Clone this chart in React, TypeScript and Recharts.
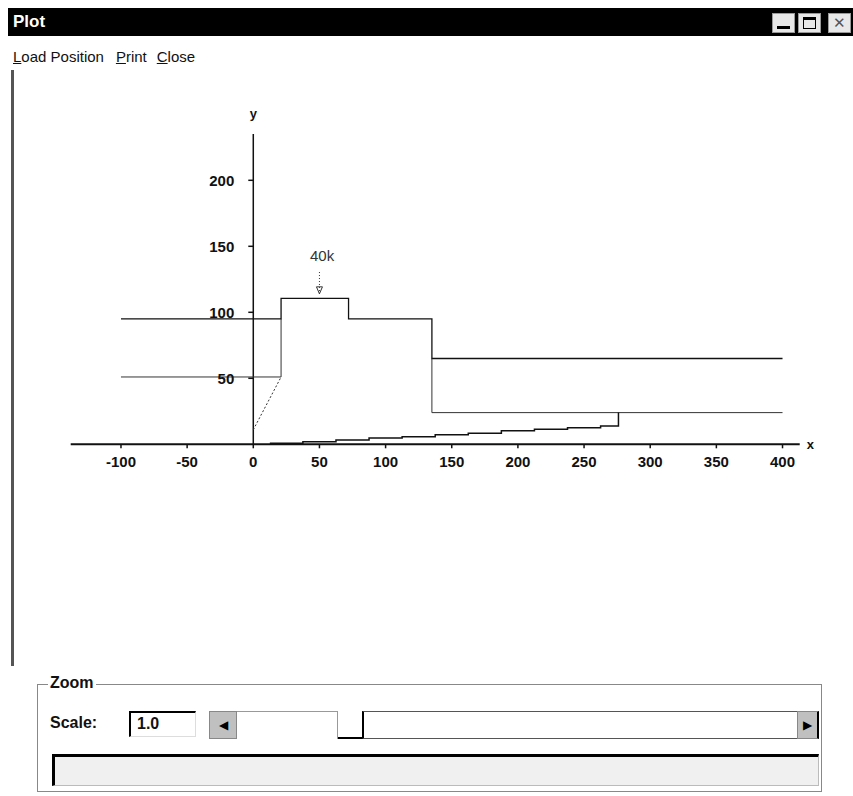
import React from "react";
import {
  LineChart,
  Line,
  XAxis,
  YAxis,
  ReferenceLine,
  ReferenceDot,
} from "recharts";

// axis ticks
const X_TICKS = [-100, -50, 0, 50, 100, 150, 200, 250, 300, 350, 400];
const Y_TICKS = [50, 100, 150, 200];

// upper profile (steps)
const UPPER_X = [-100, 21, 72, 135, 400];
const UPPER_Y = [95, 110.5, 95, 65, 65];

// lower left line going up into the step
const LEFT_LOW_X = [-100, 21, 21];
const LEFT_LOW_Y = [51, 51, 95];

// lower right line
const RIGHT_LOW_X = [135, 135, 400];
const RIGHT_LOW_Y = [65, 24, 24];

// dotted ramp from origin
const RAMP_X = [0, 21];
const RAMP_Y = [11, 51];

// staircase along the x axis
const STAIR_X = [12.5, 37.5, 62.5, 87.5, 112.5, 137.5, 162.5, 187.5, 212.5, 237.5, 262.5, 276];
const STAIR_Y = [0.8, 2, 3.3, 4.8, 5.8, 7.3, 8.3, 10.3, 11.4, 12.6, 13.9, 24];

// point load
const LOAD_X = 50;
const LOAD_LABEL = "40k";
const LOAD_TOP = 130.5;
const LOAD_TIP = 114;

const toPoints = (xs: number[], ys: number[]) => xs.map((x, i) => ({ x, y: ys[i] }));

const FONT = '"Liberation Sans", Arial, sans-serif';
const INK = "#111";

const YTick = (label: string) => (props: any) => {
  const { cx, cy } = props;
  return (
    <g>
      <line x1={cx - 5} x2={cx} y1={cy} y2={cy} stroke={INK} strokeWidth={1.5} />
      <text x={cx - 19} y={cy} dy="0.36em" textAnchor="end" fontFamily={FONT} fontSize={15} fontWeight="bold" fill={INK}>
        {label}
      </text>
    </g>
  );
};

const AxisName = (label: string) => (props: any) => {
  const { cx, cy } = props;
  return (
    <text x={cx} y={cy} dy="0.36em" textAnchor="middle" fontFamily={FONT} fontSize={13} fontWeight="bold" fill={INK}>
      {label}
    </text>
  );
};

const LoadText = (props: any) => {
  const { cx, cy } = props;
  return (
    <text x={cx} y={cy} dy="0.36em" textAnchor="middle" fontFamily={FONT} fontSize={15} fill="#333">
      {LOAD_LABEL}
    </text>
  );
};

const ArrowHead = (props: any) => {
  const { cx, cy } = props;
  return <path d={`M${cx - 3},${cy - 7} L${cx + 3},${cy - 7} L${cx},${cy} Z`} fill="none" stroke="#333" strokeWidth={1} />;
};

function PlotChart() {
  return (
    <LineChart width={853} height={500} margin={{ top: 107.7, right: 37.4, left: 70.7, bottom: 25.7 }}>
      <XAxis
        type="number"
        dataKey="x"
        domain={[-138, 425]}
        allowDataOverflow
        ticks={X_TICKS}
        interval={0}
        axisLine={false}
        tickLine={{ stroke: INK, strokeWidth: 1.5 }}
        tickSize={4}
        tickMargin={8}
        tick={{ fill: INK, fontFamily: FONT, fontSize: 15, fontWeight: "bold" }}
        height={30}
      />
      <YAxis type="number" dataKey="y" domain={[0, 255]} allowDataOverflow hide />

      <ReferenceLine segment={[{ x: -138, y: 0 }, { x: 413, y: 0 }]} stroke={INK} strokeWidth={2} />
      <ReferenceLine segment={[{ x: 0, y: 0 }, { x: 0, y: 235 }]} stroke={INK} strokeWidth={1.5} />
      {Y_TICKS.map((v) => (
        <ReferenceDot key={v} x={0} y={v} shape={YTick(String(v))} />
      ))}
      <ReferenceDot x={0} y={251} shape={AxisName("y")} />
      <ReferenceDot x={421} y={0} shape={AxisName("x")} />

      <Line data={toPoints(UPPER_X, UPPER_Y)} dataKey="y" type="stepAfter" stroke={INK} strokeWidth={1.3} dot={false} isAnimationActive={false} />
      <Line data={toPoints(LEFT_LOW_X, LEFT_LOW_Y)} dataKey="y" type="linear" stroke="#333" strokeWidth={1} dot={false} isAnimationActive={false} />
      <Line data={toPoints(RIGHT_LOW_X, RIGHT_LOW_Y)} dataKey="y" type="linear" stroke="#333" strokeWidth={1} dot={false} isAnimationActive={false} />
      <Line data={toPoints(RAMP_X, RAMP_Y)} dataKey="y" type="linear" stroke="#333" strokeWidth={1} strokeDasharray="2 2" dot={false} isAnimationActive={false} />
      <Line data={toPoints(STAIR_X, STAIR_Y)} dataKey="y" type="stepAfter" stroke={INK} strokeWidth={1.5} dot={false} isAnimationActive={false} />

      <ReferenceLine segment={[{ x: LOAD_X, y: LOAD_TOP }, { x: LOAD_X, y: LOAD_TIP }]} stroke="#333" strokeDasharray="1 2" />
      <ReferenceDot x={LOAD_X} y={LOAD_TIP} shape={ArrowHead} />
      <ReferenceDot x={LOAD_X + 2} y={143} shape={LoadText} />
    </LineChart>
  );
}

const gray = "#c0c0c0";

export default function App() {
  return (
    <div style={{ position: "relative", width: 853, height: 796, background: "#fff", fontFamily: FONT, overflow: "hidden" }}>
      <style>{`body{margin:0}`}</style>

      {/* title bar */}
      <div style={{ position: "absolute", left: 8, top: 8, width: 845, height: 28, background: "#000" }} />
      <div style={{ position: "absolute", left: 13, top: 12, color: "#fff", fontWeight: "bold", fontSize: 17 }}>Plot</div>
      {[772, 798, 828].map((l, i) => (
        <div key={l} style={{ position: "absolute", left: l, top: 13, width: 23, height: 20, background: "#e8e8e8", border: "1px solid #999", boxSizing: "border-box" }}>
          {i === 0 && <div style={{ position: "absolute", left: 4, bottom: 3, width: 13, height: 3, background: "#000" }} />}
          {i === 1 && <div style={{ position: "absolute", left: 4, top: 3, width: 13, height: 12, border: "1px solid #000", borderTopWidth: 3, boxSizing: "border-box" }} />}
          {i === 2 && <div style={{ position: "absolute", left: 0, top: 0, width: 21, textAlign: "center", fontSize: 15, lineHeight: "18px", color: "#555" }}>✕</div>}
        </div>
      ))}

      {/* menu */}
      <div style={{ position: "absolute", left: 13, top: 48, fontSize: 15, color: "#111", whiteSpace: "nowrap" }}>
        <span><u>L</u>oad Position</span>
        <span style={{ marginLeft: 12 }}><u>P</u>rint</span>
        <span style={{ marginLeft: 10 }}><u>C</u>lose</span>
      </div>

      {/* left frame edge */}
      <div style={{ position: "absolute", left: 11, top: 70, width: 3, height: 596, background: "#555" }} />

      <div style={{ position: "absolute", left: 0, top: 0 }}>
        <PlotChart />
      </div>

      {/* zoom group */}
      <div style={{ position: "absolute", left: 37, top: 684, width: 785, height: 108, border: "1px solid #888", boxSizing: "border-box" }} />
      <div style={{ position: "absolute", left: 48, top: 674, padding: "0 2px", background: "#fff", fontSize: 16, fontWeight: "bold", color: "#111" }}>Zoom</div>
      <div style={{ position: "absolute", left: 50, top: 714, fontSize: 16, fontWeight: "bold", color: "#111" }}>Scale:</div>
      <div style={{ position: "absolute", left: 129, top: 711, width: 67, height: 26, borderTop: "2px solid #000", borderLeft: "2px solid #000", borderRight: "1px solid #ddd", borderBottom: "1px solid #ddd", boxSizing: "border-box", fontSize: 16, fontWeight: 600, paddingLeft: 6, lineHeight: "22px", color: "#111" }}>1.0</div>

      {/* scrollbar */}
      <div style={{ position: "absolute", left: 209, top: 711, width: 28, height: 28, background: gray, border: "1px solid #888", boxSizing: "border-box", fontSize: 12, lineHeight: "26px", textAlign: "center" }}>◀</div>
      <div style={{ position: "absolute", left: 237, top: 711, width: 101, height: 28, borderTop: "1px solid #999", borderRight: "1px solid #999", boxSizing: "border-box" }} />
      <div style={{ position: "absolute", left: 338, top: 737, width: 24, height: 2, background: "#000" }} />
      <div style={{ position: "absolute", left: 362, top: 711, width: 435, height: 28, borderTop: "1px solid #555", borderLeft: "2px solid #000", borderBottom: "1px solid #555", boxSizing: "border-box" }} />
      <div style={{ position: "absolute", left: 797, top: 711, width: 22, height: 28, background: gray, border: "1px solid #888", borderRight: "2px solid #000", boxSizing: "border-box", fontSize: 12, lineHeight: "26px", textAlign: "center" }}>▶</div>

      {/* status bar */}
      <div style={{ position: "absolute", left: 52, top: 754, width: 767, height: 32, borderTop: "3px solid #000", borderLeft: "3px solid #000", borderRight: "1px solid #bbb", borderBottom: "1px solid #bbb", background: "#f0f0f0", boxSizing: "border-box" }} />
    </div>
  );
}
